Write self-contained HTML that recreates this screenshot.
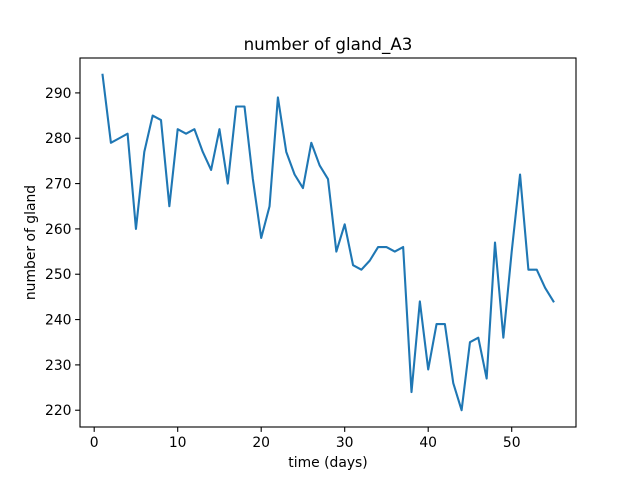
<!DOCTYPE html>
<html><head><meta charset="utf-8"><style>
body{margin:0;background:#fff}
svg text{font-family:"DejaVu Sans","Liberation Sans",sans-serif;fill:#000}
</style></head><body>
<svg id="chart" width="640" height="480" xmlns="http://www.w3.org/2000/svg">
<rect width="640" height="480" fill="#fff"/>
<g id="plot"></g>
<text x="328" y="50" text-anchor="middle" font-size="16.7">number of gland_A3</text>
<text x="328" y="467" text-anchor="middle" font-size="13.9">time (days)</text>
<text transform="translate(35,242.5) rotate(-90)" text-anchor="middle" font-size="13.9">number of gland</text>
</svg>
<script>
const days = [];
for (let i = 1; i <= 55; i++) days.push(i);
const glandCounts = [294,279,280,281,260,277,285,284,265,282,281,282,277,273,282,270,287,287,271,258,265,289,277,272,269,279,274,271,255,261,252,251,253,256,256,255,256,224,244,229,239,239,226,220,235,236,227,257,236,255,272,251,251,247,244];
const xTicks = [0,10,20,30,40,50];
const yTicks = [220,230,240,250,260,270,280,290];

const L=80,R=576,T=58,B=427;
const xmin=1-54*0.05, xmax=55+54*0.05;
const ymin=220-74*0.05, ymax=294+74*0.05;
const xs=v=>L+(v-xmin)/(xmax-xmin)*(R-L);
const ys=v=>B-(v-ymin)/(ymax-ymin)*(B-T);
const NS="http://www.w3.org/2000/svg";
const g=document.getElementById('plot');
function mk(t,a){const e=document.createElementNS(NS,t);for(const k in a)e.setAttribute(k,a[k]);g.appendChild(e);return e;}

xTicks.forEach(v=>{
  const x=xs(v);
  const t=mk('line',{x1:x,x2:x,y1:B,y2:B+4.9,stroke:'#000','stroke-width':1.1});
  
  
  const l=mk('text',{x:x,y:B+20,'text-anchor':'middle','font-size':13.9});
  
  
  l.textContent=v;
});
yTicks.forEach(v=>{
  const y=ys(v);
  const t=mk('line',{x1:L-4.9,x2:L,y1:y,y2:y,stroke:'#000','stroke-width':1.1});
  
  
  const l=mk('text',{x:L-8.5,y:y+5,'text-anchor':'end','font-size':13.9});
  
  
  l.textContent=v;
});
const pts=days.map((d,i)=>xs(d).toFixed(2)+','+ys(glandCounts[i]).toFixed(2)).join(' ');
const line=mk('polyline',{points:pts,fill:'none',stroke:'#1f77b4','stroke-width':2.1,'stroke-linejoin':'round','stroke-linecap':'square'});


const frame=mk('rect',{x:L,y:T,width:R-L,height:B-T,fill:'none',stroke:'#000','stroke-width':1.1});


</script>
</body></html>
